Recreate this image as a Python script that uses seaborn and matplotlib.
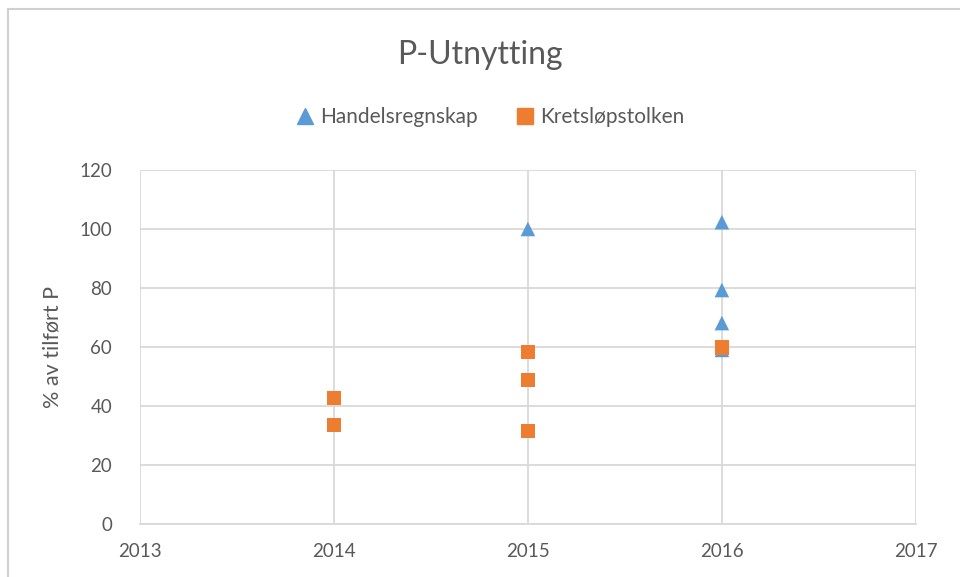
import pandas as pd
import seaborn as sns
import matplotlib.pyplot as plt
from matplotlib.patches import Rectangle

# data
handel_year = [2015, 2016, 2016, 2016, 2016]
handel_pct = [100, 102.3, 79.3, 68.1, 59.0]
krets_year = [2014, 2014, 2015, 2015, 2015, 2016]
krets_pct = [42.7, 33.6, 58.3, 48.8, 31.5, 59.8]

series_names = ['Handelsregnskap', 'Kretsløpstolken']
series_colors = ['#5B9BD5', '#ED7D31']
series_markers = ['^', 's']

df = pd.concat([
    pd.DataFrame({'year': handel_year, 'pct': handel_pct, 'serie': series_names[0]}),
    pd.DataFrame({'year': krets_year, 'pct': krets_pct, 'serie': series_names[1]}),
])

sns.set_theme(style='white')
plt.rcParams['font.family'] = ['Lato', 'DejaVu Sans']
txt = '#595959'
grid = '#D9D9D9'

fig = plt.figure(figsize=(9.6, 5.77), dpi=100)
ax = fig.add_axes([0.1458, 0.0919, 0.954 - 0.1458, 0.7054 - 0.0919])

sns.scatterplot(data=df, x='year', y='pct', hue='serie', style='serie',
                palette=dict(zip(series_names, series_colors)),
                markers=dict(zip(series_names, series_markers)),
                s=110, linewidth=0, ax=ax, legend=False, zorder=3)

ax.set_xlim(2013, 2017)
ax.set_ylim(0, 120)
ax.set_xticks([2013, 2014, 2015, 2016, 2017])
ax.set_yticks(range(0, 121, 20))
ax.grid(True, color=grid, linewidth=1.3)
ax.set_axisbelow(True)
for sp in ax.spines.values():
    sp.set_visible(False)
ax.spines['bottom'].set_visible(True)
ax.spines['bottom'].set_color(grid)
ax.spines['bottom'].set_linewidth(1.3)
ax.tick_params(axis='both', length=0, labelsize=13.5, labelcolor=txt)
ax.tick_params(axis='x', pad=14)
ax.tick_params(axis='y', pad=20)
ax.set_xlabel('')
ax.set_ylabel('% av tilført P', fontsize=15.5, color=txt, labelpad=12)

fig.text(0.5, 0.905, 'P-Utnytting', ha='center', va='center', fontsize=23, color=txt)

# legend
handles = [plt.Line2D([], [], linestyle='', marker=m, color=c, markersize=11)
           for m, c in zip(series_markers, series_colors)]
fig.legend(handles, series_names, loc='center', bbox_to_anchor=(0.51, 0.797),
           ncol=2, frameon=False, fontsize=15, labelcolor=txt,
           handletextpad=0.2, columnspacing=1.8, handlelength=1.0)

# outer chart frame
fig.patches.append(Rectangle((8 / 960, -0.1), 1.2, 1.1 - 9 / 577,
                             transform=fig.transFigure, fill=False,
                             edgecolor='#D0D0D0', linewidth=1.5))

fig.savefig('out.png', dpi=100)
